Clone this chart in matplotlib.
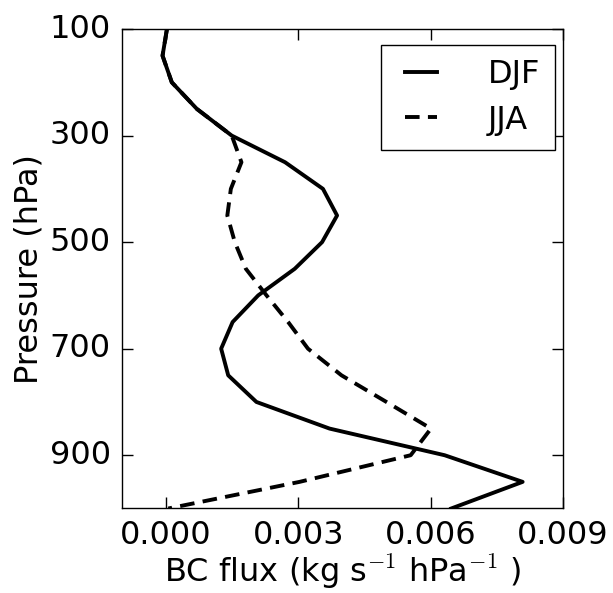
import numpy as np
import matplotlib
matplotlib.use("Agg")
import matplotlib.pyplot as plt

# DATA

pressure = [100, 150, 200, 250, 300, 350, 400, 450, 500, 550,
            600, 650, 700, 750, 800, 850, 900, 950, 1000]

flux_djf = [0.00002, -0.00008, 0.00013, 0.00070, 0.00149, 0.00270, 0.00356,
            0.00388, 0.00354, 0.00292, 0.00209, 0.00151, 0.00125, 0.00141,
            0.00205, 0.00371, 0.00632, 0.00809, 0.00647]

flux_jja = [0.00002, -0.00008, 0.00013, 0.00070, 0.00149, 0.00171, 0.00147,
            0.00139, 0.00156, 0.00181, 0.00228, 0.00277, 0.00322, 0.00398,
            0.00500, 0.00601, 0.00555, 0.00303, 0.00005]

x_ticks = [0.000, 0.003, 0.006, 0.009]
y_ticks = [100, 300, 500, 700, 900]


# PLOT

plt.style.use("classic")
plt.rcParams["font.family"] = "DejaVu Sans"
plt.rcParams["mathtext.fontset"] = "cm"
plt.rcParams["lines.scale_dashes"] = False

fig = plt.figure(figsize=(6.13, 5.93), dpi=100, facecolor="white")
ax = fig.add_axes([0.199, 0.1425, 0.719, 0.8085])

ax.plot(flux_djf, pressure, color="k", linestyle="-", linewidth=2.8, label="DJF")
ax.plot(flux_jja, pressure, color="k", linestyle=(0, (10.5, 6)), linewidth=2.8, label="JJA")

ax.set_xlim(-0.001, 0.009)
ax.set_ylim(1000, 100)
ax.set_xticks(x_ticks)
ax.set_xticklabels([f"{v:.3f}" for v in x_ticks])
ax.set_yticks(y_ticks)
ax.tick_params(labelsize=23, length=8, width=1, pad=8)

ax.set_xlabel(r"BC flux (kg s$^{-1}$ hPa$^{-1}$ )", fontsize=23, labelpad=1)
ax.set_ylabel("Pressure (hPa)", fontsize=23, labelpad=4)

ax.legend(loc="upper right", bbox_to_anchor=(0.982, 0.967), borderaxespad=0,
          fontsize=23, frameon=True, handlelength=1.6, handletextpad=1.3,
          borderpad=0.45, labelspacing=0.45)

fig.savefig("out.png", dpi=100, facecolor="white")
